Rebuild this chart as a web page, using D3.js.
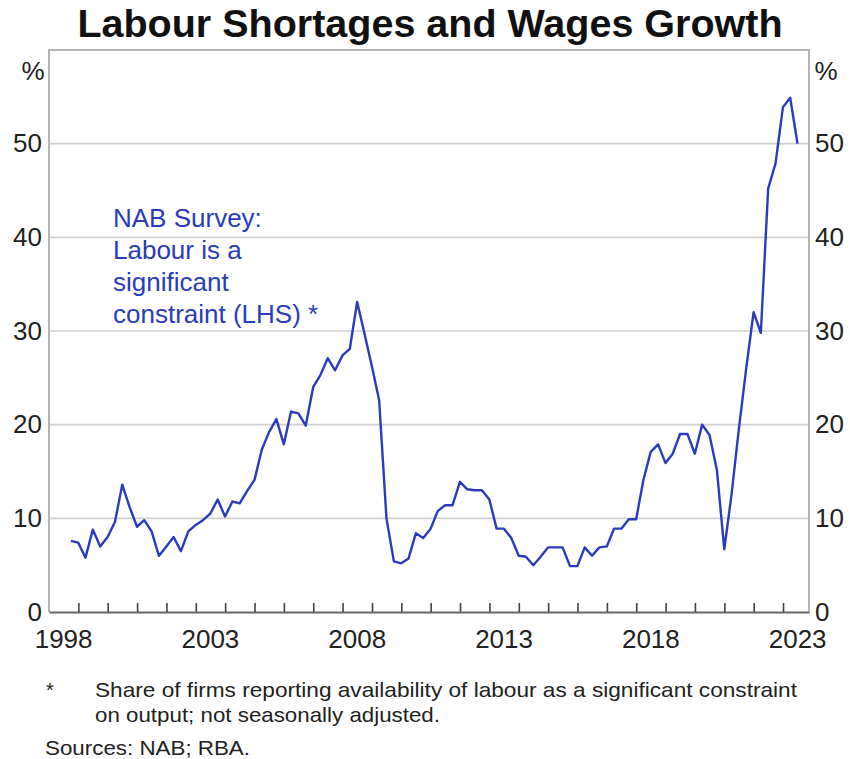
<!DOCTYPE html>
<html>
<head>
<meta charset="utf-8">
<script src="https://cdn.jsdelivr.net/npm/d3@7"></script>
<style>
  html, body { margin: 0; padding: 0; background: #fff; }
  svg { display: block; }
  text { font-family: "Liberation Sans", Arial, Helvetica, sans-serif; }
</style>
</head>
<body>
<svg id="chart" width="850" height="759"></svg>
<script>
// NAB survey: share of firms citing labour as a significant constraint, quarterly
const firstQuarter = { year: 1998, quarter: 3 };
const labourConstraint = [
  7.6, 7.4, 5.8, 8.8, 7.0, 8.0, 9.6, 13.6, 11.2, 9.1,
  9.8, 8.6, 6.0, 7.0, 8.0, 6.5, 8.6, 9.3, 9.8, 10.5,
  12.0, 10.2, 11.8, 11.6, 12.9, 14.1, 17.3, 19.2, 20.6, 17.9,
  21.4, 21.2, 19.9, 24.0, 25.3, 27.1, 25.8, 27.4, 28.1, 33.1,
  29.7, 26.2, 22.6, 10.0, 5.4, 5.2, 5.7, 8.4, 7.9, 8.9,
  10.8, 11.4, 11.4, 13.9, 13.1, 13.0, 13.0, 12.0, 8.9, 8.9,
  7.9, 6.0, 5.9, 5.0, 5.9, 6.9, 6.9, 6.9, 4.9, 4.9,
  6.9, 6.0, 6.9, 7.0, 8.9, 8.9, 9.9, 9.9, 14.1, 17.1,
  17.9, 15.9, 16.9, 19.0, 19.0, 16.9, 20.0, 18.9, 15.2, 6.7,
  12.5, 19.5, 26.0, 32.0, 29.8, 45.2, 47.9, 53.9, 54.9, 50.0
];
const yTicks = [0, 10, 20, 30, 40, 50];
const yearLabels = [1998, 2003, 2008, 2013, 2018, 2023];
const titleText = "Labour Shortages and Wages Growth";
const annotationLines = ["NAB Survey:", "Labour is a", "significant", "constraint (LHS) *"];
const footnoteLines = [
  "Share of firms reporting availability of labour as a significant constraint",
  "on output; not seasonally adjusted."
];
const sourcesText = "Sources: NAB; RBA.";

const svg = d3.select("#chart");
const plot = { left: 49, right: 809, top: 50, bottom: 612 };
const blue = "#2a3bbd";

// each quarter is placed at its last day
const dates = labourConstraint.map((_, i) => {
  const m = (firstQuarter.quarter - 1) * 3 + 3 + i * 3; // month after quarter end
  return new Date(firstQuarter.year, m, 0);
});
const series = labourConstraint.map((v, i) => ({ date: dates[i], value: v }));

const x = d3.scaleTime()
  .domain([new Date(1998, 0, 1), new Date(2023, 10, 20)])
  .range([plot.left, plot.right]);
const y = d3.scaleLinear().domain([0, 60]).range([plot.bottom, plot.top]);

// title
svg.append("text")
  .attr("x", 430).attr("y", 37)
  .attr("text-anchor", "middle")
  .attr("font-size", 39.5).attr("font-weight", "bold")
  .attr("fill", "#111")
  .text(titleText);

// horizontal gridlines
svg.append("g")
  .selectAll("line")
  .data(yTicks.filter(d => d > 0))
  .join("line")
  .attr("x1", plot.left).attr("x2", plot.right)
  .attr("y1", d => y(d)).attr("y2", d => y(d))
  .attr("stroke", "#d0d0d0").attr("stroke-width", 1.6);

// frame (left, top, right)
svg.append("path")
  .attr("d", `M${plot.left},${plot.bottom}V${plot.top}H${plot.right}V${plot.bottom}`)
  .attr("fill", "none").attr("stroke", "#b4b4b4").attr("stroke-width", 2);

// bottom axis with yearly ticks pointing inward
const yearTicks = d3.timeYear.range(new Date(1999, 0, 1), new Date(2023, 1, 1));
const xAxis = d3.axisBottom(x).tickValues(yearTicks).tickSizeInner(-9).tickSizeOuter(0).tickFormat("");
const gx = svg.append("g").attr("transform", `translate(0,${plot.bottom})`).call(xAxis);
gx.select(".domain").attr("stroke", "#666").attr("stroke-width", 2);
gx.selectAll(".tick line").attr("stroke", "#444").attr("stroke-width", 1.6);

// year labels centred on each year
svg.append("g")
  .selectAll("text")
  .data(yearLabels)
  .join("text")
  .attr("x", d => x(new Date(d, 6, 2)))
  .attr("y", 648)
  .attr("text-anchor", "middle")
  .attr("font-size", 26).attr("fill", "#222")
  .text(d => d);

// left and right value axes (labels only)
const yAxisLeft = d3.axisLeft(y).tickValues(yTicks).tickSize(0).tickPadding(6);
const gl = svg.append("g").attr("transform", `translate(${plot.left - 1},0)`).call(yAxisLeft);
const yAxisRight = d3.axisRight(y).tickValues(yTicks).tickSize(0).tickPadding(5);
const gr = svg.append("g").attr("transform", `translate(${plot.right + 1},0)`).call(yAxisRight);
[gl, gr].forEach(g => {
  g.select(".domain").remove();
  g.selectAll("text")
    .attr("font-size", 26)
    .attr("font-family", "'Liberation Sans', Arial, sans-serif")
    .attr("fill", "#222");
});

// unit labels
svg.append("text").attr("x", 33).attr("y", 80).attr("text-anchor", "middle")
  .attr("font-size", 26).attr("fill", "#222").text("%");
svg.append("text").attr("x", 826).attr("y", 80).attr("text-anchor", "middle")
  .attr("font-size", 26).attr("fill", "#222").text("%");

// series line
const line = d3.line().x(d => x(d.date)).y(d => y(d.value));
svg.append("path")
  .datum(series)
  .attr("d", line)
  .attr("fill", "none")
  .attr("stroke", blue)
  .attr("stroke-width", 2.4)
  .attr("stroke-linejoin", "round");

// series annotation
svg.append("g")
  .selectAll("text")
  .data(annotationLines)
  .join("text")
  .attr("x", 113)
  .attr("y", (d, i) => 227 + i * 32)
  .attr("font-size", 26)
  .attr("fill", blue)
  .text(d => d);

// footnotes
const noteFont = "'Liberation Sans Narrow', 'Liberation Sans', Arial, sans-serif";
svg.append("text").attr("x", 46).attr("y", 697)
  .attr("font-size", 20).attr("fill", "#222").attr("font-family", noteFont).text("*");
const noteWidths = [702, 345];
footnoteLines.forEach((t, i) => {
  svg.append("text")
    .attr("x", 95).attr("y", 697 + i * 25)
    .attr("font-size", 21).attr("fill", "#222")
    .attr("font-family", noteFont)
    .attr("textLength", noteWidths[i])
    .attr("lengthAdjust", "spacingAndGlyphs")
    .text(t);
});
svg.append("text")
  .attr("x", 45).attr("y", 755)
  .attr("font-size", 21).attr("fill", "#222")
  .attr("font-family", noteFont)
  .attr("textLength", 205)
  .attr("lengthAdjust", "spacingAndGlyphs")
  .text(sourcesText);
</script>
</body>
</html>
